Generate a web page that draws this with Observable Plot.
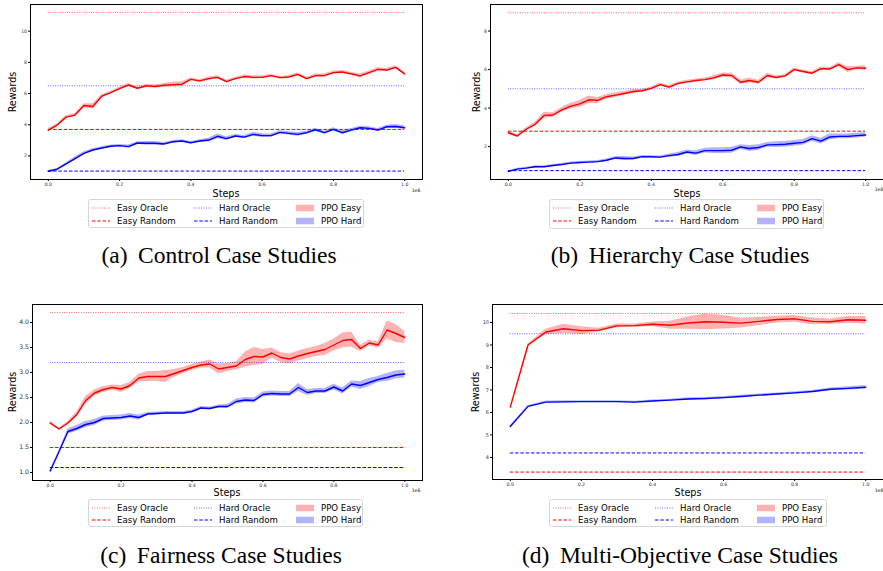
<!DOCTYPE html>
<html><head><meta charset="utf-8">
<script src="https://cdn.jsdelivr.net/npm/d3@7"></script>
<script src="https://cdn.jsdelivr.net/npm/@observablehq/plot@0.6"></script>
<style>
body{margin:0;background:#fff;}
#root{position:relative;width:883px;height:571px;overflow:hidden;background:#fff;font-family:"DejaVu Sans",sans-serif;}
.panel{position:absolute;}
.lbl{position:absolute;color:#000;white-space:nowrap;line-height:1;transform:translate(-50%,-50%);}
.legend{position:absolute;box-sizing:border-box;border:1px solid #d6d6d6;border-radius:3px;background:#fff;font-size:8.6px;}
.legend .it{position:absolute;white-space:nowrap;line-height:1;transform:translateY(-50%);}
.legend svg{position:absolute;transform:translateY(-50%);}
.cap{position:absolute;font-family:"Liberation Serif","Times New Roman",serif;font-size:23.5px;white-space:nowrap;line-height:1;transform:translate(-50%,-50%);}
</style></head><body><div id="root"></div>
<script>
// x positions (training steps, in units of 1e6)
const stepsFine = [0,0.025,0.05,0.075,0.1,0.125,0.15,0.175,0.2,0.225,0.25,0.275,0.3,0.325,0.35,0.375,0.4,0.425,0.45,0.475,0.5,0.525,0.55,0.575,0.6,0.625,0.65,0.675,0.7,0.725,0.75,0.775,0.8,0.825,0.85,0.875,0.9,0.925,0.95,0.975,1.0];
const stepsCoarse = [0,0.05,0.1,0.15,0.2,0.25,0.3,0.35,0.4,0.45,0.5,0.55,0.6,0.65,0.7,0.75,0.8,0.85,0.9,0.95,1.0];
const xTicks = [0,0.2,0.4,0.6,0.8,1.0];

// (a) Control
const aEasy = [3.65,3.98,4.49,4.62,5.23,5.17,5.83,6.06,6.32,6.55,6.34,6.49,6.45,6.53,6.57,6.60,6.91,6.81,6.96,7.04,6.77,6.96,7.09,7.04,7.04,7.15,7.02,7.06,7.23,6.96,7.15,7.15,7.34,7.38,7.26,7.13,7.34,7.55,7.51,7.68,7.26];
const aEasyErr = [0.12,0.08,0.08,0.1,0.12,0.18,0.1,0.08,0.08,0.1,0.08,0.1,0.1,0.12,0.15,0.15,0.08,0.08,0.1,0.1,0.08,0.08,0.1,0.1,0.08,0.08,0.08,0.08,0.1,0.08,0.1,0.1,0.1,0.1,0.1,0.12,0.1,0.1,0.1,0.1,0.08];
const aHard = [1.02,1.15,1.49,1.83,2.17,2.38,2.51,2.62,2.66,2.60,2.83,2.81,2.81,2.77,2.91,2.96,2.85,2.96,3.02,3.26,3.11,3.28,3.21,3.38,3.30,3.30,3.51,3.45,3.38,3.49,3.68,3.49,3.70,3.49,3.66,3.81,3.77,3.66,3.87,3.89,3.81];
const aHardErr = [0.05,0.05,0.08,0.1,0.1,0.08,0.08,0.08,0.08,0.1,0.08,0.12,0.12,0.1,0.08,0.08,0.08,0.08,0.12,0.15,0.12,0.1,0.1,0.12,0.12,0.1,0.1,0.1,0.12,0.1,0.1,0.1,0.1,0.12,0.1,0.1,0.1,0.1,0.1,0.12,0.12];
const aRef = {easyOracle: 11.2, hardOracle: 6.5, easyRandom: 3.7, hardRandom: 1.03};

// (b) Hierarchy
const bEasy = [2.72,2.55,2.90,3.16,3.62,3.64,3.91,4.10,4.22,4.43,4.40,4.59,4.67,4.76,4.86,4.90,5.02,5.22,5.09,5.28,5.36,5.43,5.48,5.57,5.72,5.69,5.34,5.43,5.34,5.69,5.59,5.67,6.00,5.90,5.81,6.05,6.03,6.26,6.00,6.09,6.07];
const bEasyErr = [0.08,0.06,0.08,0.1,0.15,0.12,0.12,0.15,0.18,0.2,0.15,0.12,0.12,0.1,0.1,0.08,0.08,0.08,0.08,0.08,0.08,0.08,0.08,0.1,0.1,0.12,0.12,0.12,0.1,0.1,0.08,0.08,0.08,0.08,0.08,0.08,0.08,0.1,0.15,0.08,0.12];
const bHard = [0.71,0.83,0.88,0.95,0.95,1.02,1.07,1.14,1.17,1.19,1.22,1.29,1.41,1.38,1.38,1.48,1.47,1.45,1.53,1.59,1.72,1.66,1.79,1.79,1.79,1.81,1.98,1.90,1.95,2.09,2.10,2.12,2.17,2.22,2.41,2.28,2.50,2.53,2.53,2.57,2.60];
const bHardErr = [0.03,0.04,0.05,0.05,0.05,0.05,0.05,0.06,0.06,0.06,0.06,0.06,0.08,0.1,0.08,0.06,0.06,0.06,0.08,0.1,0.1,0.12,0.12,0.15,0.15,0.15,0.12,0.15,0.15,0.12,0.15,0.15,0.15,0.15,0.15,0.15,0.15,0.12,0.12,0.12,0.12];
const bRef = {easyOracle: 8.95, hardOracle: 5.0, easyRandom: 2.8, hardRandom: 0.75};

// (c) Fairness
const cEasy = [1.99,1.87,1.99,2.16,2.44,2.59,2.66,2.70,2.67,2.74,2.89,2.92,2.92,2.92,2.98,3.04,3.10,3.15,3.17,3.07,3.10,3.13,3.26,3.32,3.31,3.39,3.30,3.27,3.33,3.38,3.42,3.46,3.55,3.64,3.66,3.48,3.59,3.55,3.85,3.78,3.70];
const cEasyErr = [0.03,0.02,0.03,0.05,0.08,0.06,0.06,0.05,0.07,0.06,0.08,0.1,0.1,0.12,0.08,0.06,0.06,0.06,0.08,0.1,0.08,0.08,0.15,0.18,0.15,0.1,0.1,0.1,0.1,0.1,0.1,0.12,0.12,0.15,0.15,0.06,0.06,0.06,0.18,0.18,0.12];
const cHard = [1.03,1.42,1.82,1.88,1.96,2.00,2.08,2.09,2.10,2.13,2.10,2.17,2.18,2.19,2.19,2.19,2.22,2.29,2.28,2.32,2.32,2.42,2.45,2.44,2.56,2.58,2.57,2.57,2.70,2.60,2.63,2.63,2.71,2.63,2.77,2.74,2.80,2.86,2.90,2.95,2.97];
const cHardErr = [0.02,0.02,0.05,0.06,0.06,0.06,0.05,0.05,0.05,0.05,0.05,0.03,0.03,0.03,0.03,0.03,0.03,0.03,0.03,0.03,0.04,0.05,0.05,0.05,0.05,0.05,0.05,0.05,0.08,0.06,0.05,0.05,0.06,0.06,0.06,0.08,0.08,0.06,0.08,0.08,0.08];
const cRef = {easyOracle: 4.2, hardOracle: 3.2, easyRandom: 1.5, hardRandom: 1.1};

// (d) Multi-Objective
const dEasy = [6.24,9.0,9.58,9.72,9.64,9.66,9.85,9.86,9.92,9.88,9.98,10.03,10.01,9.97,10.05,10.13,10.16,10.05,10.03,10.12,10.10];
const dEasyErr = [0.03,0.05,0.12,0.2,0.17,0.08,0.08,0.07,0.1,0.18,0.28,0.35,0.3,0.22,0.18,0.15,0.15,0.15,0.12,0.15,0.17];
const dHard = [5.38,6.27,6.46,6.47,6.48,6.48,6.48,6.46,6.51,6.55,6.60,6.62,6.66,6.71,6.77,6.82,6.87,6.93,7.03,7.07,7.12];
const dHardErr = [0.03,0.04,0.05,0.05,0.04,0.04,0.04,0.04,0.04,0.04,0.05,0.05,0.05,0.05,0.05,0.05,0.05,0.05,0.06,0.07,0.08];
const dRef = {easyOracle: 10.4, hardOracle: 9.5, easyRandom: 3.35, hardRandom: 4.2};

const legendLabels = {easyOracle: "Easy Oracle", easyRandom: "Easy Random", hardOracle: "Hard Oracle", hardRandom: "Hard Random", ppoEasy: "PPO Easy", ppoHard: "PPO Hard"};
const axisLabels = {x: "Steps", y: "Rewards", exp: "1e6"};

const RED = "#ff0000", BLUE = "#0000ff";
const DOT = "1,1.4", DASH = "3.5,1.8";
const root = document.getElementById("root");

function rows(steps, easy, easyErr, hard, hardErr) {
  return steps.map((s, i) => ({step: s, easy: easy[i], easyLo: easy[i] - easyErr[i], easyHi: easy[i] + easyErr[i],
    hard: hard[i], hardLo: hard[i] - hardErr[i], hardHi: hard[i] + hardErr[i]}));
}

function panel(o) {
  const data = rows(o.steps, o.easy, o.easyErr, o.hard, o.hardErr);
  const r = o.ref;
  const hline = (v, color, dash, op) => Plot.ruleY([v], {x1: () => 0, x2: () => 1, stroke: color, strokeWidth: 1, strokeDasharray: dash, strokeOpacity: op});
  const svg = Plot.plot({
    width: o.width, height: o.height,
    marginLeft: o.mL, marginRight: o.mR, marginTop: o.mT, marginBottom: o.mB,
    style: {fontFamily: "DejaVu Sans", background: "transparent", overflow: "visible"},
    x: {domain: [-0.05, 1.05]},
    y: {domain: o.yDomain},
    marks: [
      Plot.axisX({ticks: xTicks, tickFormat: ".1f", tickSize: 2, tickPadding: 1.5, fontSize: 4.6, label: null, stroke: "#000", fill: "#333"}),
      Plot.axisY({ticks: o.yTicks, tickFormat: o.yFmt, tickSize: 2, tickPadding: 1.5, fontSize: o.yFont, label: null, stroke: "#000", fill: "#333"}),
      hline(r.easyOracle, RED, DOT, 0.6),
      hline(r.hardOracle, BLUE, DOT, 0.6),
      hline(r.easyRandom, RED, DASH, 1),
      hline(r.hardRandom, BLUE, DASH, 1),
      Plot.areaY(data, {x: "step", y1: "easyLo", y2: "easyHi", fill: RED, fillOpacity: 0.3}),
      Plot.areaY(data, {x: "step", y1: "hardLo", y2: "hardHi", fill: BLUE, fillOpacity: 0.3}),
      Plot.lineY(data, {x: "step", y: "easy", stroke: RED, strokeWidth: 1.4}),
      Plot.lineY(data, {x: "step", y: "hard", stroke: BLUE, strokeWidth: 1.4}),
      Plot.frame({stroke: "#000", strokeWidth: 1})
    ]
  });
  svg.classList.add("panel");
  svg.style.left = o.left + "px";
  svg.style.top = o.top + "px";
  root.appendChild(svg);

  const addLbl = (text, x, y, size, rot) => {
    const d = document.createElement("div");
    d.className = "lbl";
    d.textContent = text;
    d.style.left = x + "px"; d.style.top = y + "px"; d.style.fontSize = size + "px";
    if (rot) d.style.transform = "translate(-50%,-50%) rotate(-90deg)";
    root.appendChild(d);
  };
  addLbl(axisLabels.y, o.yLab[0], o.yLab[1], 9.6, true);
  addLbl(axisLabels.x, o.xLab[0], o.xLab[1], 9.6, false);
  addLbl(axisLabels.exp, o.exp[0], o.exp[1], 4.6, false);

  // legend
  const lg = document.createElement("div");
  lg.className = "legend";
  const [lx, ly, lw, lh] = o.legend;
  Object.assign(lg.style, {left: lx + "px", top: ly + "px", width: lw + "px", height: lh + "px"});
  const row1 = lh * 0.28, row2 = lh * 0.71;
  const item = (kind, color, dash, label, sx, tx, ry) => {
    let s;
    if (kind === "line") s = `<svg width="18" height="6" style="left:${sx}px;top:${ry}px"><line x1="0" y1="3" x2="18" y2="3" stroke="${color}" stroke-width="1" stroke-dasharray="${dash}" stroke-opacity="${dash === DOT ? 0.6 : 1}"/></svg>`;
    else s = `<svg width="18" height="7" style="left:${sx}px;top:${ry}px"><rect x="0" y="0" width="18" height="7" fill="${color}" fill-opacity="0.3"/></svg>`;
    lg.insertAdjacentHTML("beforeend", s + `<div class="it" style="left:${tx}px;top:${ry}px">${label}</div>`);
  };
  item("line", RED, DOT, legendLabels.easyOracle, 3, 28, row1);
  item("line", RED, DASH, legendLabels.easyRandom, 3, 28, row2);
  item("line", BLUE, DOT, legendLabels.hardOracle, 105, 130, row1);
  item("line", BLUE, DASH, legendLabels.hardRandom, 105, 130, row2);
  item("patch", RED, null, legendLabels.ppoEasy, 207, 232, row1);
  item("patch", BLUE, null, legendLabels.ppoHard, 207, 232, row2);
  root.appendChild(lg);

  const cap = document.createElement("div");
  cap.className = "cap";
  cap.innerHTML = o.caption;
  cap.style.left = o.cap[0] + "px"; cap.style.top = o.cap[1] + "px";
  root.appendChild(cap);
}

panel({left: 0, top: 0, width: 440, height: 200, mL: 30, mR: 18, mT: 4, mB: 21,
  yDomain: [0.49, 11.71], yTicks: [2,4,6,8,10], yFmt: "d", yFont: 4.6,
  steps: stepsFine, easy: aEasy, easyErr: aEasyErr, hard: aHard, hardErr: aHardErr, ref: aRef,
  yLab: [13, 91.5], xLab: [226, 194], exp: [416, 191], legend: [88, 199, 276, 29],
  caption: "(a)\u2009 Control Case Studies", cap: [219, 256]});

panel({left: 440, top: 0, width: 443, height: 200, mL: 50, mR: 0, mT: 4, mB: 21,
  yDomain: [0.29, 9.38], yTicks: [2,4,6,8], yFmt: "d", yFont: 4.6,
  steps: stepsFine, easy: bEasy, easyErr: bEasyErr, hard: bHard, hardErr: bHardErr, ref: bRef,
  yLab: [477, 91.5], xLab: [687, 194], exp: [879, 190], legend: [549, 199, 275, 30],
  caption: "(b)\u2009 Hierarchy Case Studies", cap: [680, 256]});

panel({left: 0, top: 290, width: 440, height: 210, mL: 32, mR: 18, mT: 14, mB: 20,
  yDomain: [0.84, 4.36], yTicks: [1.0,1.5,2.0,2.5,3.0,3.5,4.0], yFmt: ".1f", yFont: 6.2,
  steps: stepsFine, easy: cEasy, easyErr: cEasyErr, hard: cHard, hardErr: cHardErr, ref: cRef,
  yLab: [13, 392], xLab: [227, 493], exp: [416, 491], legend: [88, 499, 275, 28],
  caption: "(c)\u2009 Fairness Case Studies", cap: [221, 556]});

panel({left: 440, top: 290, width: 443, height: 210, mL: 52, mR: 0, mT: 14, mB: 21,
  yDomain: [3.02, 10.8], yTicks: [4,5,6,7,8,9,10], yFmt: "d", yFont: 5,
  steps: stepsCoarse, easy: dEasy, easyErr: dEasyErr, hard: dHard, hardErr: dHardErr, ref: dRef,
  yLab: [476, 392], xLab: [688, 493], exp: [879, 491], legend: [549, 499, 278, 28],
  caption: "(d)\u2009 Multi-Objective Case Studies", cap: [680, 556]});
</script></body></html>
